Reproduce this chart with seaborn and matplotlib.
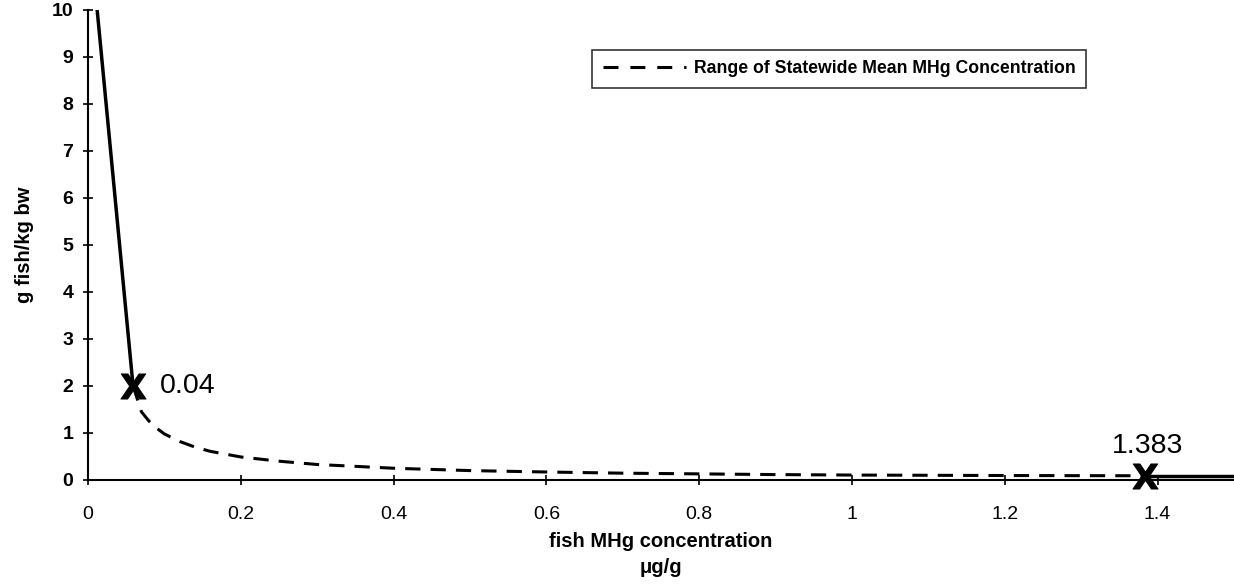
import pandas as pd
import matplotlib
matplotlib.use('Agg')
import matplotlib.pyplot as plt
import seaborn as sns

# values
left_x = [0.012, 0.059]
left_y = [10.0, 2.0]

range_x = [0.059, 0.07, 0.08, 0.09, 0.10, 0.12, 0.14, 0.16, 0.20, 0.25, 0.30, 0.35, 0.40,
           0.50, 0.60, 0.70, 0.80, 0.90, 1.00, 1.10, 1.20, 1.30, 1.383]
range_y = [2.0, 1.45, 1.25, 1.1, 0.98, 0.82, 0.7, 0.61, 0.49, 0.4, 0.33, 0.29, 0.25,
           0.2, 0.17, 0.145, 0.13, 0.115, 0.105, 0.1, 0.095, 0.092, 0.09]

right_x = [1.383, 1.5]
right_y = [0.09, 0.09]

marker_x = [0.059, 1.383]
marker_y = [2.0, 0.09]
marker_labels = ['0.04', '1.383']

x_ticks = [0, 0.2, 0.4, 0.6, 0.8, 1, 1.2, 1.4]
y_ticks = list(range(0, 11))

sns.set_style('white')
plt.rcParams['font.family'] = ['Liberation Sans', 'DejaVu Sans']
plt.rcParams['text.color'] = 'black'
plt.rcParams['axes.labelcolor'] = 'black'

fig = plt.figure(figsize=(12.34, 5.85), dpi=100)
ax = fig.add_axes([0.0713, 0.1795, 0.9287, 0.8035])

df_left = pd.DataFrame({'x': left_x, 'y': left_y})
df_range = pd.DataFrame({'x': range_x, 'y': range_y})
df_right = pd.DataFrame({'x': right_x, 'y': right_y})

sns.lineplot(x='x', y='y', data=df_left, color='black', linewidth=2.5, sort=False, ax=ax)
sns.lineplot(x='x', y='y', data=df_range, color='black', linewidth=2.2, sort=False,
             dashes=False, ax=ax, label='Range of Statewide Mean MHg Concentration')
ax.lines[-1].set_linestyle((0, (5, 3.3)))
sns.lineplot(x='x', y='y', data=df_right, color='black', linewidth=2.5, sort=False, ax=ax)
ax.scatter(marker_x, marker_y, marker=r'$\mathbf{X}$', s=330, color='black',
           linewidths=0.6, zorder=5, clip_on=False)

ax.annotate(marker_labels[0], (marker_x[0], marker_y[0]), xytext=(19, 0),
            textcoords='offset points', va='center', ha='left', fontsize=20.5)
ax.annotate(marker_labels[1], (marker_x[1], marker_y[1]), xytext=(2, 12),
            textcoords='offset points', va='bottom', ha='center', fontsize=20.5)

ax.set_xlim(0, 1.5)
ax.set_ylim(0, 10)
ax.set_xticks(x_ticks)
ax.set_xticklabels([str(t) for t in x_ticks], fontsize=14)
ax.set_yticks(y_ticks)
ax.set_yticklabels([str(t) for t in y_ticks], fontsize=14, fontweight='bold')
ax.tick_params(bottom=True, left=True, direction='inout', length=7, width=1.2,
               colors='black')
ax.tick_params(axis='x', pad=15)
ax.tick_params(axis='y', pad=7)
for s in ['top', 'right']:
    ax.spines[s].set_visible(False)
for s in ['left', 'bottom']:
    ax.spines[s].set_color('black')
    ax.spines[s].set_linewidth(1.5)

ax.set_xlabel('fish MHg concentration\nμg/g', fontsize=14.5, fontweight='bold',
              labelpad=7, linespacing=1.45)
ax.set_ylabel('g fish/kg bw', fontsize=14.5, fontweight='bold', labelpad=13)

leg = ax.legend(loc='upper left', bbox_to_anchor=(0.44, 0.915), frameon=True, fancybox=False,
                prop={'weight': 'bold', 'size': 12.7}, handlelength=4.7, borderpad=0.6,
                handletextpad=0.45, borderaxespad=0)
leg.get_frame().set_edgecolor('black')
leg.get_frame().set_linewidth(1.2)
leg.get_lines()[0].set_linestyle((0, (4.9, 3.9)))
for t in leg.get_texts():
    t.set_color('black')

fig.savefig('out.png', dpi=100)
